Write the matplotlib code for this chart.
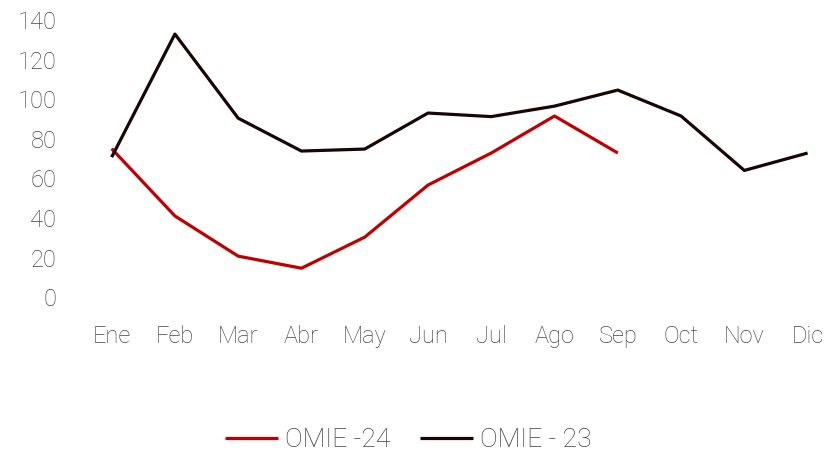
import matplotlib
matplotlib.use("Agg")
import matplotlib.pyplot as plt

months = ["Ene", "Feb", "Mar", "Abr", "May", "Jun", "Jul", "Ago", "Sep", "Oct", "Nov", "Dic"]
omie_24 = [75, 41, 20.7, 14.6, 30.3, 56.6, 72.8, 91.5, 72.8]
omie_23 = [70.7, 132.9, 90.4, 73.8, 74.8, 93, 91.2, 96.5, 104.6, 91.5, 64, 72.8]
yticks = [0, 20, 40, 60, 80, 100, 120, 140]

plt.rcParams['font.family'] = ['Roboto', 'DejaVu Sans']
fig = plt.figure(figsize=(8.3, 4.55), dpi=100)
ax = fig.add_axes([0.0964, 0.347, 0.901, 0.609])

x23 = list(range(len(omie_23)))
x24 = list(range(len(omie_24)))
ax.plot(x24, omie_24, color="#C00000", lw=2.3, label="OMIE -24", solid_capstyle="butt")
ax.plot(x23, omie_23, color="#1A0505", lw=2.3, label="OMIE - 23", solid_capstyle="butt")

ax.set_xlim(-0.5, 11.32)
ax.set_ylim(0, 140)
ax.set_yticks(yticks)
ax.set_yticklabels([str(v) for v in yticks], fontweight="light")
ax.set_xticks(x23)
ax.set_xticklabels(months, fontweight="light")
ax.tick_params(axis="both", length=0, labelsize=17, colors="#454545")
ax.tick_params(axis="x", pad=20)
ax.tick_params(axis="y", pad=17)
for s in ax.spines.values():
    s.set_visible(False)

leg = fig.legend(loc="center", bbox_to_anchor=(0.492, 0.032), ncol=2, frameon=False,
                 prop={"size": 19, "weight": "light"}, handlelength=2.0, handletextpad=0.25,
                 columnspacing=1.15)
for t in leg.get_texts():
    t.set_color("#404040")

fig.savefig("out.png", dpi=100)
